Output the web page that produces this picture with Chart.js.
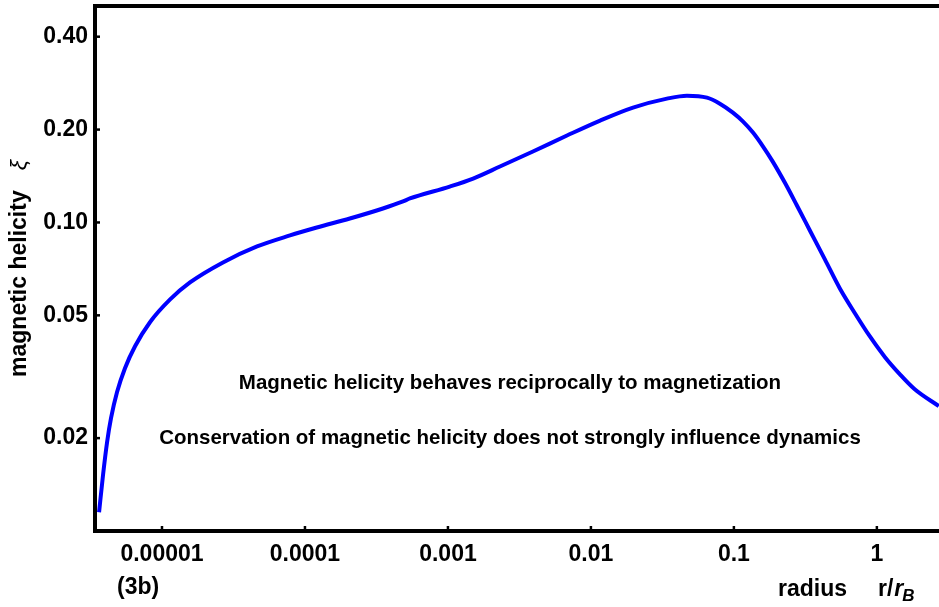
<!DOCTYPE html>
<html>
<head>
<meta charset="utf-8">
<script src="https://cdn.jsdelivr.net/npm/chart.js@4/dist/chart.umd.min.js"></script>
<style>
  html, body { margin: 0; padding: 0; background: #fff; }
  #wrap { width: 939px; height: 607px; position: relative; }
</style>
</head>
<body>
<div id="wrap"><canvas id="helicityChart"></canvas></div>
<script>
// radius r/r_B and magnetic helicity xi along the profile
const radius = [
  3.63e-6, 3.87e-6, 4.13e-6, 4.40e-6, 4.85e-6, 5.51e-6, 6.48e-6, 8.24e-6,
  1.14e-5, 1.57e-5, 2.67e-5, 4.62e-5, 7.86e-5, 1.21e-4, 2.06e-4, 3.51e-4,
  4.85e-4, 5.42e-4, 1.03e-3, 1.50e-3, 2.31e-3, 3.93e-3, 6.80e-3, 0.0116,
  0.0197, 0.034, 0.0469, 0.0648, 0.0798, 0.0984, 0.116, 0.136, 0.160,
  0.187, 0.227, 0.276, 0.340, 0.433, 0.551, 0.702, 0.894, 1.14, 1.45,
  1.84, 2.71,
];
const helicity = [
  0.0115, 0.0152, 0.0194, 0.0232, 0.0282, 0.0337, 0.0397, 0.0475,
  0.0563, 0.0639, 0.0742, 0.0836, 0.0908, 0.0963, 0.1030, 0.1110,
  0.1170, 0.1196, 0.1307, 0.1388, 0.1518, 0.1698, 0.1913, 0.2139,
  0.2356, 0.2519, 0.2576, 0.2538, 0.2427, 0.2270, 0.2123, 0.1956, 0.1762,
  0.1575, 0.1347, 0.1135, 0.0942, 0.0759, 0.0611, 0.0508, 0.0427, 0.0366, 0.0322,
  0.0288, 0.0254,
];

const xTicks = [1e-5, 1e-4, 1e-3, 1e-2, 1e-1, 1];
const xTickLabels = ["0.00001", "0.0001", "0.001", "0.01", "0.1", "1"];
const yTicks = [0.02, 0.05, 0.1, 0.2, 0.4];
const yTickLabels = ["0.02", "0.05", "0.10", "0.20", "0.40"];

const notes = [
  "Magnetic helicity behaves reciprocally to magnetization",
  "Conservation of magnetic helicity does not strongly influence dynamics",
];

const FONT = "'Liberation Sans', Arial, Helvetica, sans-serif";

// frame top line, inward tick marks and the free text
const decorations = {
  id: "decorations",
  afterDraw(chart) {
    const { ctx, chartArea: area, scales } = chart;
    ctx.save();
    ctx.strokeStyle = "#000";
    ctx.lineWidth = 4;
    ctx.beginPath();
    ctx.moveTo(area.left - 2, area.top);
    ctx.lineTo(area.right, area.top);
    ctx.stroke();

    ctx.lineWidth = 2.5;
    yTicks.forEach((v) => {
      const py = scales.y.getPixelForValue(v);
      ctx.beginPath();
      ctx.moveTo(area.left, py);
      ctx.lineTo(area.left + 5, py);
      ctx.stroke();
    });
    xTicks.forEach((v) => {
      const px = scales.x.getPixelForValue(v);
      ctx.beginPath();
      ctx.moveTo(px, area.bottom);
      ctx.lineTo(px, area.bottom - 5);
      ctx.stroke();
    });

    ctx.fillStyle = "#000";
    ctx.textAlign = "center";
    ctx.textBaseline = "middle";
    ctx.font = "bold 20.5px " + FONT;
    const cx = (area.left + area.right) / 2 - 7;
    ctx.fillText(notes[0], cx, 383);
    ctx.fillText(notes[1], cx, 438);

    // y axis title, rotated
    ctx.save();
    ctx.translate(20, (area.top + area.bottom) / 2);
    ctx.rotate(-Math.PI / 2);
    ctx.font = "bold 23px " + FONT;
    const w1 = ctx.measureText("magnetic helicity").width;
    ctx.font = "italic 23px " + FONT;
    const w2 = ctx.measureText("ξ").width;
    const gap = 20;
    let x0 = -(w1 + gap + w2) / 2;
    ctx.textAlign = "left";
    ctx.font = "bold 23px " + FONT;
    ctx.fillText("magnetic helicity", x0, 0);
    ctx.font = "italic 23px " + FONT;
    ctx.fillText("ξ", x0 + w1 + gap, 0);
    ctx.restore();

    // panel tag and x axis title
    ctx.textAlign = "left";
    ctx.textBaseline = "alphabetic";
    ctx.font = "bold 23px " + FONT;
    ctx.fillText("(3b)", 117, 594);
    ctx.fillText("radius", 778, 596);
    ctx.fillText("r/", 878, 596);
    const wr = ctx.measureText("r/").width;
    ctx.font = "italic bold 23px " + FONT;
    ctx.fillText("r", 878 + wr + 1, 596);
    const wi = ctx.measureText("r").width;
    ctx.font = "italic bold 17px " + FONT;
    ctx.fillText("B", 878 + wr + wi, 601);
    ctx.restore();
  },
};

const noPadding = (scale) => {
  scale.paddingTop = 0;
  scale.paddingBottom = 0;
  scale.paddingLeft = 0;
  scale.paddingRight = 0;
};

new Chart(document.getElementById("helicityChart"), {
  type: "line",
  data: {
    datasets: [
      {
        data: radius.map((r, i) => ({ x: r, y: helicity[i] })),
        borderColor: "#0000ff",
        borderWidth: 4,
        pointRadius: 0,
        cubicInterpolationMode: "monotone",
        fill: false,
      },
    ],
  },
  options: {
    responsive: true,
    maintainAspectRatio: false,
    animation: false,
    layout: { padding: { top: 6, right: 0, left: 0, bottom: 0 } },
    plugins: {
      legend: { display: false },
      tooltip: { enabled: false },
    },
    scales: {
      x: {
        type: "logarithmic",
        min: 3.4e-6,
        max: 2.72,
        grid: { display: false, drawTicks: false },
        border: { display: true, color: "#000", width: 4 },
        afterBuildTicks: (s) => { s.ticks = xTicks.map((v) => ({ value: v })); },
        afterFit: (s) => { s.height = 76; noPadding(s); },
        ticks: {
          autoSkip: false,
          maxRotation: 0,
          padding: 10,
          color: "#000",
          font: { family: FONT, size: 23, weight: "bold" },
          callback: (v) => xTickLabels[xTicks.indexOf(v)],
        },
      },
      y: {
        type: "logarithmic",
        min: 0.01,
        max: 0.503,
        grid: { display: false, drawTicks: false },
        border: { display: true, color: "#000", width: 4 },
        afterBuildTicks: (s) => { s.ticks = yTicks.map((v) => ({ value: v })); },
        afterFit: (s) => { s.width = 95; noPadding(s); },
        ticks: {
          autoSkip: false,
          padding: 7,
          color: "#000",
          font: { family: FONT, size: 23, weight: "bold" },
          callback: (v) => yTickLabels[yTicks.indexOf(v)],
        },
      },
    },
  },
  plugins: [decorations],
});
</script>
</body>
</html>
